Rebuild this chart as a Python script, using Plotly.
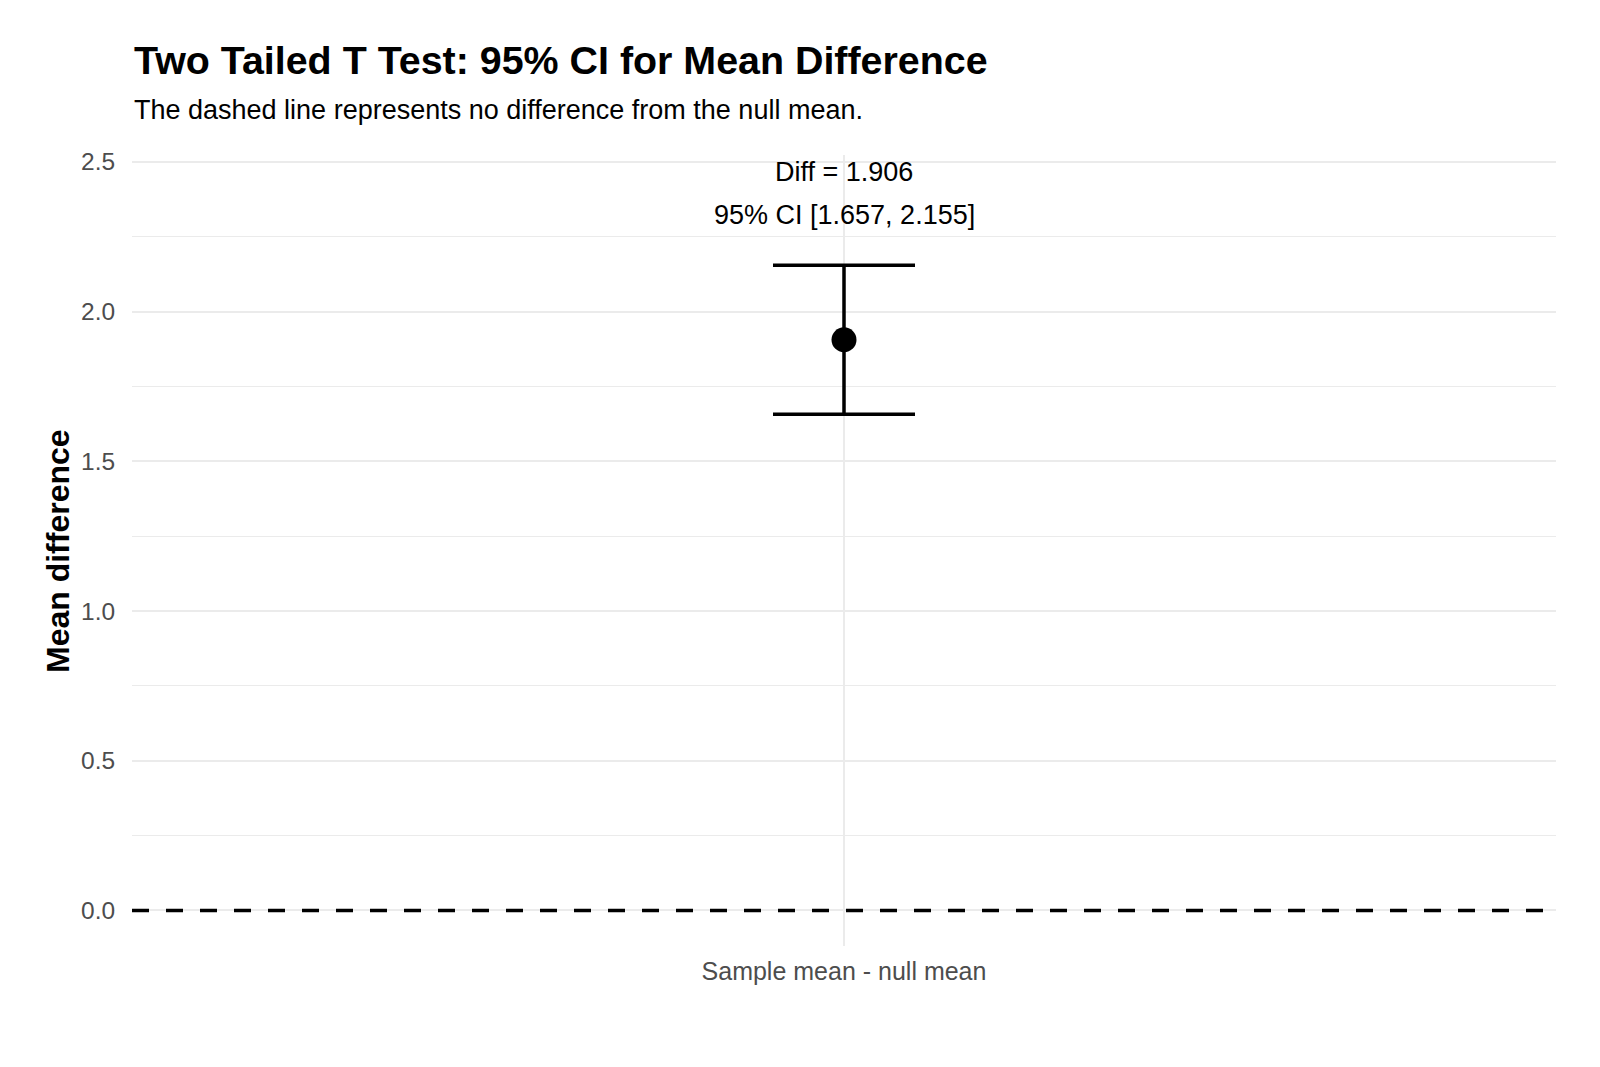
import plotly.graph_objects as go

# ---- data ----
categories = ["Sample mean - null mean"]
mean_diff = [1.906]
ci_lower = [1.657]
ci_upper = [2.155]
null_diff = 0.0
y_tickvals = [0.0, 0.5, 1.0, 1.5, 2.0, 2.5]

title_text = "Two Tailed T Test: 95% CI for Mean Difference"
subtitle_text = "The dashed line represents no difference from the null mean."
y_title = "Mean difference"

FONT = "Liberation Sans, Arial, Helvetica, sans-serif"
GRID = "#ebebeb"

err_plus = [u - m for u, m in zip(ci_upper, mean_diff)]
err_minus = [m - l for m, l in zip(mean_diff, ci_lower)]

fig = go.Figure()
fig.add_trace(go.Scatter(
    x=categories, y=mean_diff, mode="markers",
    marker=dict(size=25, color="black"),
    error_y=dict(type="data", symmetric=False, array=err_plus, arrayminus=err_minus,
                 color="black", thickness=3.5, width=71),
    showlegend=False, hoverinfo="skip",
))

# dashed null line
fig.add_shape(type="line", xref="paper", x0=0, x1=1, yref="y", y0=null_diff, y1=null_diff,
              line=dict(color="black", width=3.5, dash="17px,17px"), layer="above")

# labels above CI
for i, c in enumerate(categories):
    fig.add_annotation(x=c, y=ci_upper[i], xref="x", yref="y", yshift=93.6,
                       text=f"Diff = {mean_diff[i]:.3f}", showarrow=False,
                       xanchor="center", yanchor="middle",
                       font=dict(family=FONT, size=27, color="black"))
    fig.add_annotation(x=c, y=ci_upper[i], xref="x", yref="y", yshift=50.3,
                       text=f"95% CI [{ci_lower[i]:.3f}, {ci_upper[i]:.3f}]", showarrow=False,
                       xanchor="center", yanchor="middle",
                       font=dict(family=FONT, size=27, color="black"))

# title / subtitle / y title
fig.add_annotation(xref="paper", yref="paper", x=0, y=(946 - 60) / 791, xanchor="left", yanchor="middle",
                   text=f"<b>{title_text}</b>", showarrow=False,
                   font=dict(family=FONT, size=39.4, color="black"))
fig.add_annotation(xref="paper", yref="paper", x=0, y=(946 - 110) / 791, xanchor="left", yanchor="middle",
                   text=subtitle_text, showarrow=False,
                   font=dict(family=FONT, size=27, color="black"))
fig.add_annotation(xref="paper", yref="paper", x=(58 - 132) / 1424, y=(946 - 551) / 791,
                   xanchor="center", yanchor="middle", textangle=-90,
                   text=f"<b>{y_title}</b>", showarrow=False,
                   font=dict(family=FONT, size=32, color="black"))

fig.update_layout(
    width=1600, height=1067,
    margin=dict(l=132, r=44, t=155, b=121, autoexpand=False),
    paper_bgcolor="white", plot_bgcolor="white",
    font=dict(family=FONT),
    showlegend=False,
)
fig.update_xaxes(
    type="category", range=[-0.6, 0.6],
    showgrid=True, gridcolor=GRID, gridwidth=2,
    zeroline=False, showline=False,
    ticks="outside", ticklen=3, tickcolor="rgba(0,0,0,0)",
    tickfont=dict(family=FONT, size=25, color="#4d4d4d"),
)
fig.update_yaxes(
    range=[-0.1186, 2.523],
    tickvals=y_tickvals, ticktext=[f"{v:.1f}" for v in y_tickvals],
    showgrid=True, gridcolor=GRID, gridwidth=2,
    minor=dict(dtick=0.25, tick0=0, showgrid=True, gridcolor=GRID, gridwidth=1),
    zeroline=False, showline=False,
    ticks="outside", ticklen=11, tickcolor="rgba(0,0,0,0)",
    tickfont=dict(family=FONT, size=24.5, color="#4d4d4d"),
)

fig.write_html("out.html")
